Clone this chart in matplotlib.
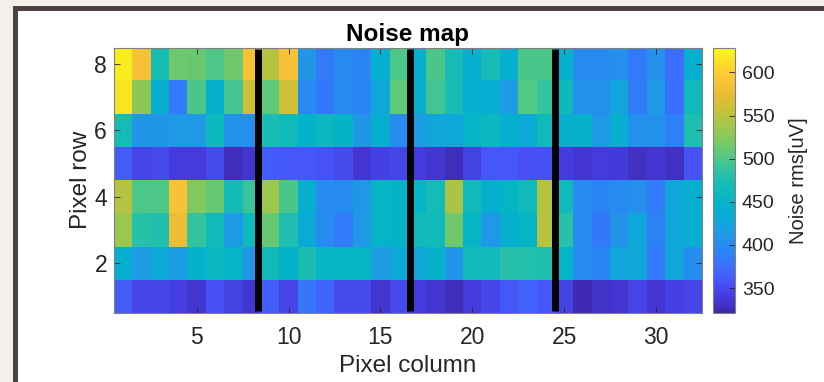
import numpy as np
import matplotlib
matplotlib.use("Agg")
import matplotlib.pyplot as plt
from matplotlib.colors import LinearSegmentedColormap
from matplotlib.patches import Rectangle

plt.rcParams['font.family'] = ['Liberation Sans', 'DejaVu Sans']

# Noise values (uV), rows listed from pixel row 1 (bottom) to 8 (top), 32 columns each
row1 = [362, 347, 347, 342, 335, 355, 345, 335, 364, 347, 382, 368, 350, 350, 335, 350,
        340, 335, 328, 340, 347, 360, 366, 360, 345, 325, 333, 335, 347, 335, 343, 347]
row2 = [440, 415, 432, 415, 445, 455, 450, 410, 466, 448, 473, 453, 453, 452, 415, 430,
        428, 445, 408, 465, 465, 482, 478, 476, 452, 398, 392, 428, 428, 385, 428, 400]
row3 = [535, 482, 477, 578, 488, 466, 412, 462, 510, 475, 432, 400, 385, 412, 450, 447,
        465, 465, 515, 452, 412, 440, 452, 548, 482, 400, 383, 407, 428, 390, 428, 440]
row4 = [548, 500, 500, 587, 522, 512, 467, 490, 535, 498, 440, 400, 400, 412, 452, 448,
        452, 468, 542, 465, 440, 452, 465, 548, 465, 400, 392, 398, 405, 385, 428, 440]
row5 = [362, 347, 350, 340, 340, 350, 328, 335, 362, 360, 360, 356, 350, 335, 343, 347,
        340, 335, 328, 345, 360, 360, 355, 355, 340, 335, 340, 338, 330, 335, 330, 356]
row6 = [468, 408, 410, 412, 412, 462, 405, 403, 472, 466, 448, 456, 448, 410, 440, 400,
        415, 428, 428, 452, 458, 440, 430, 465, 440, 445, 412, 440, 405, 405, 390, 474]
row7 = [615, 528, 440, 385, 498, 440, 495, 560, 508, 560, 398, 383, 398, 392, 430, 508,
        440, 495, 470, 438, 438, 415, 502, 488, 462, 405, 405, 425, 385, 412, 375, 466]
row8 = [620, 585, 470, 515, 512, 500, 515, 585, 548, 588, 410, 385, 398, 392, 440, 500,
        440, 498, 470, 440, 470, 440, 498, 498, 440, 398, 398, 405, 385, 405, 375, 440]

divider_x = [8.35, 16.6, 24.5]
x_ticks = [5, 10, 15, 20, 25, 30]
y_ticks = [2, 4, 6, 8]
cbar_ticks = [350, 400, 450, 500, 550, 600]
clim = (321, 629)

data = np.array([row1, row2, row3, row4, row5, row6, row7, row8])

parula_pts = [
    (0.2422, 0.1504, 0.6603), (0.2720, 0.2330, 0.8700), (0.2780, 0.3300, 0.9750),
    (0.2300, 0.4400, 0.9950), (0.1650, 0.5250, 0.9600), (0.1250, 0.6000, 0.9000),
    (0.0500, 0.6650, 0.8500), (0.0150, 0.7050, 0.7850), (0.0689, 0.7324, 0.7296),
    (0.1700, 0.7600, 0.6500), (0.3262, 0.7838, 0.5189), (0.4800, 0.7900, 0.3900),
    (0.6421, 0.7785, 0.2863), (0.7800, 0.7570, 0.2250), (0.9140, 0.7400, 0.2100),
    (0.9900, 0.7700, 0.2200), (0.9800, 0.8600, 0.1600), (0.9769, 0.9839, 0.0805)]
parula = LinearSegmentedColormap.from_list('parula', parula_pts, N=256)

fig = plt.figure(figsize=(8.24, 3.82), dpi=100)
fig.patch.set_facecolor('#f3f0eb')
W, H = 824, 382
fig.patches.append(Rectangle((13 / W, 0), 1, 1 - 6 / H, transform=fig.transFigure,
                             facecolor='#4a4242', edgecolor='none', zorder=-2))
fig.patches.append(Rectangle((17.5 / W, 0), 1, 1 - 10.5 / H, transform=fig.transFigure,
                             facecolor='white', edgecolor='none', zorder=-1))

ax = fig.add_axes([114 / W, 1 - 313 / H, (702 - 114) / W, (313 - 47.5) / H])
im = ax.imshow(data, cmap=parula, origin='lower', aspect='auto', interpolation='nearest',
               extent=(0.5, 32.5, 0.5, 8.5), vmin=clim[0], vmax=clim[1])
for xv in divider_x:
    ax.plot([xv, xv], [0.55, 8.45], color='black', linewidth=5, solid_capstyle='butt')
ax.set_xlim(0.5, 32.5)
ax.set_ylim(0.5, 8.5)
ax.set_xticks(x_ticks)
ax.set_yticks(y_ticks)
edge = '#262626'
ax.tick_params(direction='in', top=True, right=True, length=4, width=0.6,
               colors=edge, labelsize=16.5)
ax.tick_params(axis='x', pad=9)
ax.tick_params(axis='y', pad=5)
for s in ax.spines.values():
    s.set_color('#808080')
    s.set_linewidth(0.8)
ax.set_title('Noise map', fontsize=17.5, fontweight='bold', color='black', pad=5)
ax.set_xlabel('Pixel column', fontsize=17.5, color=edge, labelpad=5)
ax.set_ylabel('Pixel row', fontsize=17.5, color=edge, labelpad=2)

cax = fig.add_axes([713 / W, 1 - 313 / H, 22 / W, (313 - 47.5) / H])
cb = fig.colorbar(im, cax=cax, ticks=cbar_ticks)
cb.outline.set_edgecolor('#808080')
cb.outline.set_linewidth(0.8)
cax.tick_params(direction='in', length=4, width=0.6, colors=edge, labelsize=14, pad=5)
cb.set_label('Noise rms[uV]', fontsize=14.5, color=edge, labelpad=10)

fig.savefig('out.png', dpi=100)
